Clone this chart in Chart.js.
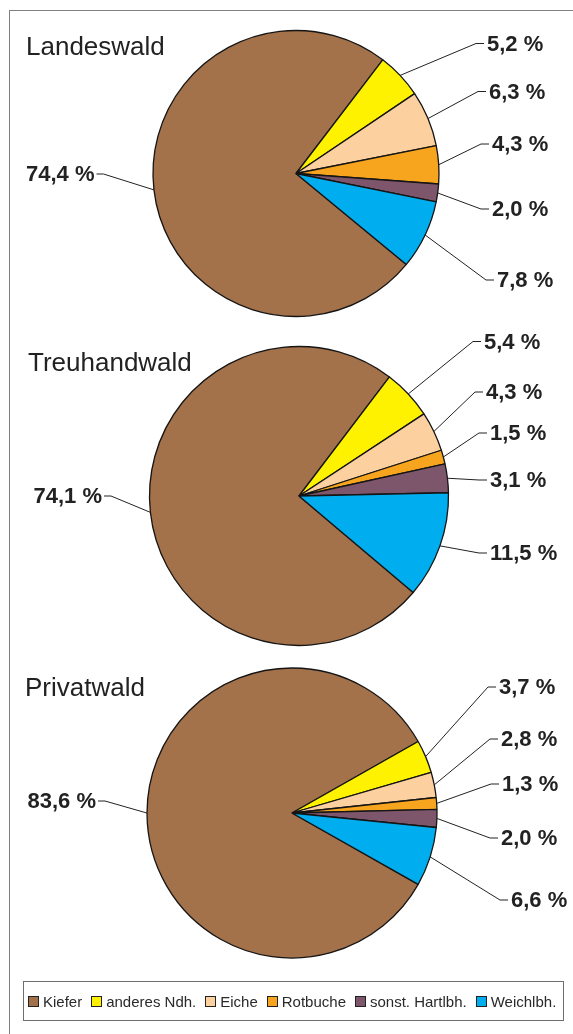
<!DOCTYPE html>
<html>
<head>
<meta charset="utf-8">
<script src="https://cdn.jsdelivr.net/npm/chart.js@4/dist/chart.umd.min.js"></script>
<style>
  html, body { margin: 0; padding: 0; background: #fff; }
  body { width: 573px; height: 1034px; position: relative; overflow: hidden; font-family: "Liberation Sans", Arial, sans-serif; }
  .frame { position: absolute; left: 9px; top: 10px; width: 600px; height: 1100px; border: 1px solid #808080; box-sizing: border-box; }
  canvas { position: absolute; left: 0; }
  .legend { position: absolute; left: 23px; top: 981px; width: 541px; height: 40px; border: 1px solid #6f6f6f; box-sizing: border-box;
            display: flex; align-items: center; padding-left: 4px; font-size: 15px; color: #2a2a2a; white-space: nowrap; }
  .legend span.box { display: inline-block; width: 11px; height: 11px; border: 1px solid #222; box-sizing: border-box; margin-right: 4px; }
  .legend .item { display: flex; align-items: center; margin-right: 9px; }
</style>
</head>
<body>
<div class="frame"></div>
<canvas id="pie1" width="573" height="347" style="top:0px;width:573px;height:347px"></canvas>
<canvas id="pie2" width="573" height="332" style="top:330px;width:573px;height:332px"></canvas>
<canvas id="pie3" width="573" height="306" style="top:660px;width:573px;height:306px"></canvas>
<div class="legend" id="legend"></div>
<script>
// Baumartenanteile in %
const categories = ['Kiefer', 'anderes Ndh.', 'Eiche', 'Rotbuche', 'sonst. Hartlbh.', 'Weichlbh.'];
const landeswald = [74.4, 5.2, 6.3, 4.3, 2.0, 7.8];
const treuhandwald = [74.1, 5.4, 4.3, 1.5, 3.1, 11.5];
const privatwald = [83.6, 3.7, 2.8, 1.3, 2.0, 6.6];

const colors = ['#A3714A', '#FFF200', '#FDD09F', '#F7A51E', '#7E566B', '#00AEEF'];

function fmt(v) {
  return v.toFixed(1).replace('.', ',') + ' %';
}

// title + value labels with leader lines
function makeLabels(title, titleX, titleY, spots) {
  return {
    id: 'sliceLabels',
    afterDatasetsDraw(chart) {
      const ctx = chart.ctx;
      const arcs = chart.getDatasetMeta(0).data;
      const values = chart.data.datasets[0].data;
      ctx.save();
      ctx.font = '26px "Liberation Sans", Arial, sans-serif';
      ctx.fillStyle = '#222';
      ctx.textAlign = 'left';
      ctx.textBaseline = 'alphabetic';
      ctx.fillText(title, titleX, titleY);

      ctx.font = 'bold 22px "Liberation Sans", Arial, sans-serif';
      ctx.textBaseline = 'middle';
      ctx.strokeStyle = '#222';
      ctx.lineWidth = 1;
      arcs.forEach(function(arc, i) {
        const p = arc.getProps(['x', 'y', 'startAngle', 'endAngle', 'outerRadius'], true);
        const mid = (p.startAngle + p.endAngle) / 2;
        const rx = p.x + p.outerRadius * Math.cos(mid);
        const ry = p.y + p.outerRadius * Math.sin(mid);
        const tx = p.x + spots[i][0];
        const ty = p.y + spots[i][1];
        const left = spots[i][0] < 0;
        const elbowX = left ? tx + 9 : tx - 11;
        const endX = left ? tx + 2 : tx - 3;
        ctx.beginPath();
        ctx.moveTo(rx, ry);
        ctx.lineTo(elbowX, ty - 1);
        ctx.lineTo(endX, ty - 1);
        ctx.stroke();
        ctx.textAlign = left ? 'right' : 'left';
        ctx.fillText(fmt(values[i]), tx, ty);
      });
      ctx.restore();
    }
  };
}

function drawPie(canvasId, values, radius, rotation, padLeft, labels) {
  const ctx = document.getElementById(canvasId).getContext('2d');
  new Chart(ctx, {
    type: 'pie',
    data: {
      labels: categories,
      datasets: [{
        data: values,
        backgroundColor: colors,
        borderColor: '#151515',
        borderWidth: 1.3
      }]
    },
    options: {
      responsive: false,
      animation: false,
      events: [],
      radius: radius,
      rotation: rotation,
      layout: { padding: { left: padLeft } },
      plugins: {
        legend: { display: false },
        tooltip: { enabled: false }
      }
    },
    plugins: [labels]
  });
}

drawPie('pie1', landeswald, 143, 129.5, 19,
  makeLabels('Landeswald', 26, 54.5,
    [[-201.5, 1.5], [191, -129], [193, -81], [196, -28.5], [196, 36.5], [201, 107.5]]));
drawPie('pie2', treuhandwald, 149.5, 130.2, 25,
  makeLabels('Treuhandwald', 28, 40.5,
    [[-197, 1], [185, -153.5], [187, -103], [191, -62], [191, -15], [191, 58]]));
drawPie('pie3', privatwald, 145, 119.5, 11,
  makeLabels('Privatwald', 25, 36,
    [[-196, -11], [207, -125], [209, -73], [210, -28], [209, 26], [219, 88]]));

// legend
const legend = document.getElementById('legend');
categories.forEach(function(name, i) {
  const item = document.createElement('div');
  item.className = 'item';
  const box = document.createElement('span');
  box.className = 'box';
  box.style.background = colors[i];
  item.appendChild(box);
  item.appendChild(document.createTextNode(name));
  legend.appendChild(item);
});
</script>
</body>
</html>
